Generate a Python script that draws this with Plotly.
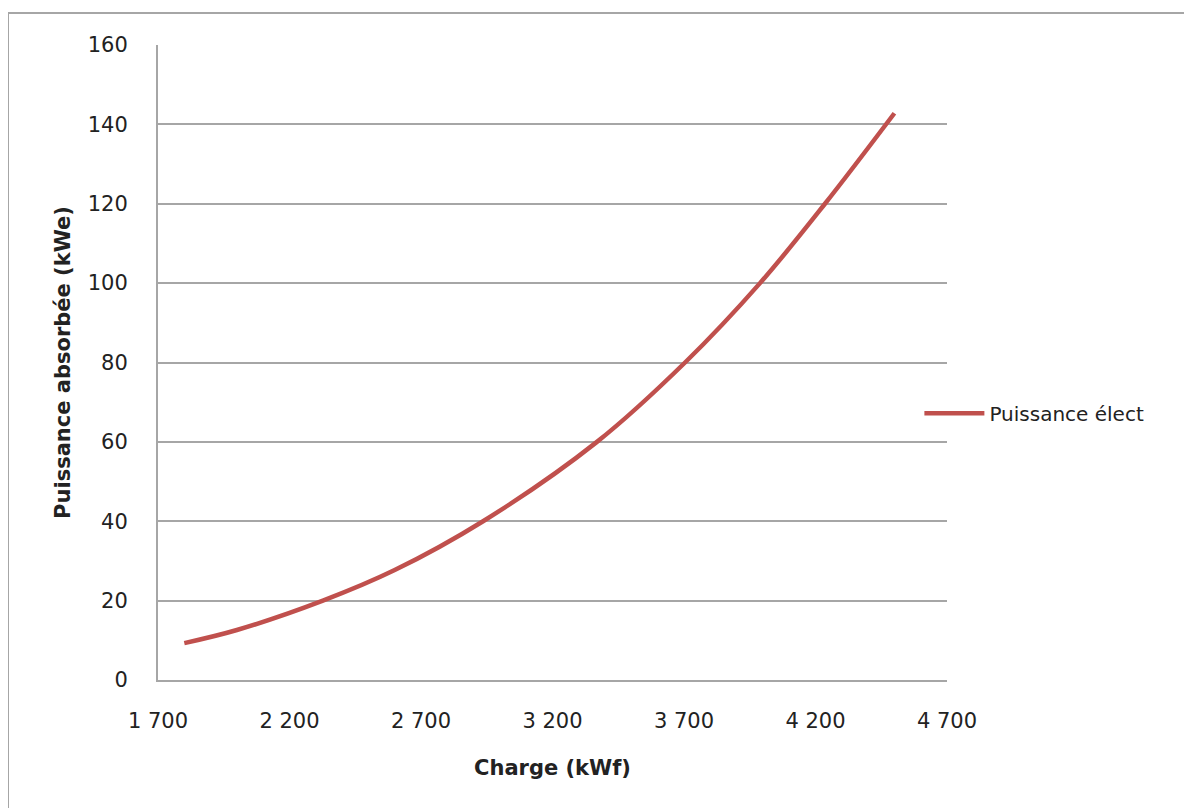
import plotly.graph_objects as go

charge = [1800, 2000, 2327, 2600, 2936, 3369, 3704, 3989, 4236, 4500]
puissance = [9.3, 12.6, 20, 27.7, 40, 60, 80, 100, 120, 142.8]
x_ticks = [1700, 2200, 2700, 3200, 3700, 4200, 4700]
x_labels = ["1 700", "2 200", "2 700", "3 200", "3 700", "4 200", "4 700"]
y_ticks = [0, 20, 40, 60, 80, 100, 120, 140, 160]

FONT = "Comic Sans MS, DejaVu Sans, sans-serif"
TXT = "#222222"

fig = go.Figure()
fig.add_trace(go.Scatter(
    x=charge, y=puissance, mode="lines", name="Puissance élect",
    line=dict(color="#c0504d", width=4.5, shape="spline", smoothing=1.0),
))

# page body has an 8px offset; figure coordinates below account for it
W, H = 1192, 808
L, T = 150, 37
PR, PB = 939, 672
R, B = W - PR, H - PB
pw, ph = PR - L, PB - T

fig.update_layout(
    width=W, height=H,
    margin=dict(l=L, r=R, t=T, b=B),
    paper_bgcolor="white", plot_bgcolor="white",
    font=dict(family=FONT, size=20, color=TXT),
    showlegend=True,
    legend=dict(x=0.965, y=0.42, xanchor="left", yanchor="middle",
                itemwidth=60,
                font=dict(family=FONT, size=20, color=TXT),
                bgcolor="rgba(0,0,0,0)"),
    xaxis=dict(range=[1700, 4700], tickvals=x_ticks, ticktext=x_labels,
               showgrid=False, zeroline=False, showline=True,
               linecolor="#a6a6a6", linewidth=2, ticks="",
               ticklabelstandoff=21,
               tickfont=dict(family=FONT, size=21, color=TXT),
               title=dict(text="<b>Charge (kWf)</b>", standoff=28,
                          font=dict(family=FONT, size=21, color=TXT))),
    yaxis=dict(range=[0, 160], tickvals=y_ticks,
               showgrid=True, gridcolor="#a6a6a6", gridwidth=1.5,
               zeroline=False, showline=True,
               linecolor="#a6a6a6", linewidth=2, ticks="",
               ticklabelstandoff=24,
               tickfont=dict(family=FONT, size=21, color=TXT),
               title=dict(text="<b>Puissance absorbée (kWe)</b>", standoff=11,
                          font=dict(family=FONT, size=21, color=TXT))),
)

# outer chart frame
fig.add_shape(type="rect", xref="paper", yref="paper",
              x0=(0 - L) / pw, x1=(W + 20 - L) / pw,
              y0=-(H + 20 - PB) / ph, y1=1 + (T - 5) / ph,
              line=dict(color="#a6a6a6", width=2), fillcolor="rgba(0,0,0,0)",
              layer="below")

fig.write_html("out.html")
